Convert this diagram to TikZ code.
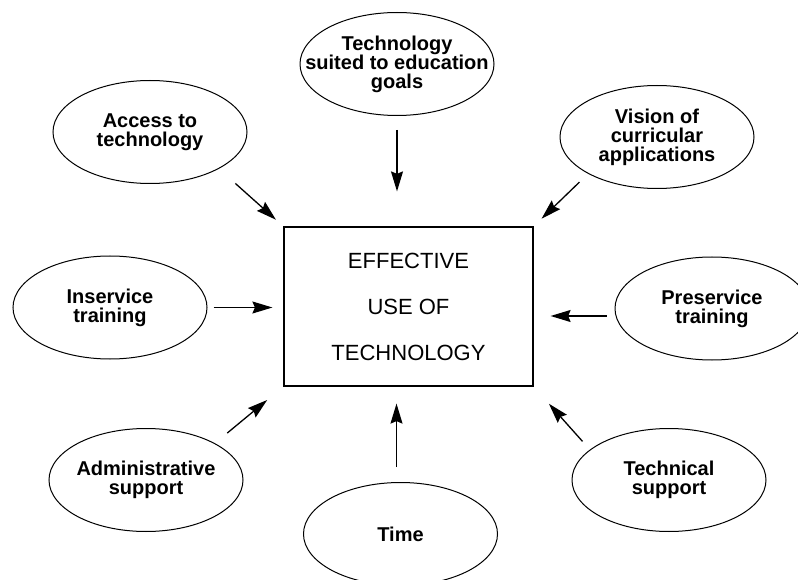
\documentclass[tikz,border=0pt]{standalone}
\usepackage{fontspec}
\setmainfont{Liberation Sans}
\usetikzlibrary{shapes.geometric,arrows.meta}

\begin{document}
\begin{tikzpicture}[x=1pt,y=-1pt,
  oval/.style={ellipse,draw,line width=1pt,minimum width=194pt,minimum height=103pt,
    inner xsep=-40pt,inner ysep=-20pt,align=center,font=\bfseries\fontsize{20}{19}\selectfont},
  core/.style={draw,line width=1.2pt,minimum width=249pt,minimum height=159pt,
    align=center,font=\fontsize{22}{46}\selectfont},
  feed/.style={-{Stealth[length=20pt,width=12pt,inset=2.5pt]},line width=1.3pt}]
\useasboundingbox (0,0) rectangle (798,580);
\node[core] (eff) at (408.5,306.5) {EFFECTIVE\\USE OF\\TECHNOLOGY};
\node[oval] (goal) at (397,64) {Technology\\suited to education\\goals};
\node[oval] (acc) at (150,132) {Access to\\technology};
\node[oval] (vis) at (657,137) {Vision of\\curricular\\applications};
\node[oval] (ins) at (110,307.5) {Inservice\\training};
\node[oval] (pre) at (712,308.5) {Preservice\\training};
\node[oval] (adm) at (146,480) {Administrative\\support};
\node[oval] (tim) at (400.5,534) {Time};
\node[oval] (tec) at (669,480) {Technical\\support};
\draw[feed,shorten <=14pt,shorten >=35pt] (goal.south) -- (goal.south |- eff.north);
\draw[feed,shorten <=22pt,shorten >=10pt] (acc.south east) -- (eff.north west);
\draw[feed,shorten <=12pt,shorten >=11pt] (vis.south west) -- (eff.north east);
\draw[feed,shorten <=6pt,shorten >=11pt] (ins.east) -- (ins.east -| eff.west);
\draw[feed,shorten <=8pt,shorten >=17pt] ([yshift=-7.5pt]pre.west) -- ([yshift=-7.5pt]pre.west -| eff.east);
\draw[feed,shorten <=16pt,shorten >=21pt] (adm.north east) -- (eff.south west);
\draw[feed,shorten <=15pt,shorten >=17pt] ([xshift=-4pt]tim.north) -- ([xshift=-4pt]tim.north |- eff.south);
\draw[feed,shorten <=11pt,shorten >=23pt] (tec.159) -- (eff.south east);
\end{tikzpicture}
\end{document}
